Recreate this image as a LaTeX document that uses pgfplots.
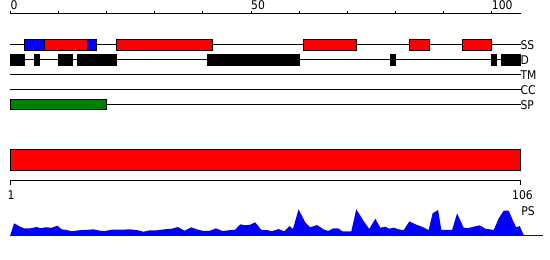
\documentclass[border=0pt]{standalone}
\usepackage{pgfplots}
\pgfplotsset{compat=1.18}
\usepackage{pgfplotstable}
\usepackage{fontspec}
\setmainfont{DejaVu Sans Condensed}
\definecolor{fgreen}{RGB}{0,128,0}
\newcommand{\lf}{\fontsize{12bp}{14bp}\selectfont}
\pgfplotstableread{
u h
0 0
0.77 12
1.33 10.6
2.02 8.6
2.85 7
4.10 7
5.49 8.3
6.38 7
7.21 8
8.61 7.6
9.77 9.6
10.69 6
11.73 5.3
12.77 4
14.14 5
15.53 5.3
17.26 6
18.65 4.6
19.69 4.3
21.08 5.6
23.16 5.6
24.89 6
26.55 5
27.65 3.6
29.04 5
30.44 5
32.52 6.3
33.56 6.6
34.80 8.3
36.17 4.6
37.57 8
38.75 6
40.12 4.3
41.52 4.6
42.70 7
44.07 4.3
45.32 5
46.71 5.6
47.75 11
48.79 10
49.83 10.6
50.87 13
52.12 5.6
53.64 5
54.34 4
55.72 6.3
56.90 4
58.00 9.3
58.71 6.3
59.88 26
61.27 13
62.31 8
63.70 10.3
65.07 6
65.99 4.3
67.15 7
68.07 7
69.02 4
70.83 4
71.87 26
73.39 14.3
74.57 6.3
75.82 16.6
76.86 7.6
77.90 8.6
78.73 6.6
79.63 7.6
80.67 6
81.71 5
82.89 14
84.14 11
85.53 8.6
86.90 5.3
87.73 22
88.86 25.3
89.54 5.3
91.77 5.3
92.81 22
94.18 7.6
95.22 7.3
96.26 8.6
97.51 10
98.69 6.6
100.42 5.3
101.46 17
102.49 24.6
103.53 24.6
104.37 15.3
105.08 8
105.82 9.3
106.65 0
}\profile
\newcommand{\feat}[5]{\addplot[fill=#5,draw=black,line width=1bp] coordinates {(#1,#3)(#2,#3)(#2,#4)(#1,#4)} -- cycle;}
\begin{document}
\begin{tikzpicture}
\path[use as bounding box] (0,0) rectangle (550bp,260bp);
\begin{axis}[
  at={(0,0)}, anchor=south west,
  width=550bp, height=260bp, scale only axis,
  hide axis, clip=false,
  xmin=-2.14, xmax=112.11, ymin=0, ymax=260,
]
% top scale
\addplot[black, line width=1bp] coordinates {(0,246)(106,246)};
\pgfplotsinvokeforeach{0,10,20,30,40,50,60,70,80,90,100}{
  \addplot[black, line width=1bp] coordinates {(#1,245.5)(#1,249)};
}
\node[anchor=west, inner sep=0pt] at (axis cs:0.0,254.5) {\lf 0};
\node[anchor=west, inner sep=0pt] at (axis cs:50.0,254.5) {\lf 50};
\node[anchor=west, inner sep=0pt] at (axis cs:100.0,254.5) {\lf 100};
% track lines
\addplot[black, line width=1bp] coordinates {(0,215)(106,215)};
\addplot[black, line width=1bp] coordinates {(0,200)(106,200)};
\addplot[black, line width=1bp] coordinates {(0,185)(106,185)};
\addplot[black, line width=1bp] coordinates {(0,170)(106,170)};
\addplot[black, line width=1bp] coordinates {(0,155)(106,155)};
\node[anchor=west, inner sep=0pt] at (axis cs:105.95,215) {\lf SS};
\node[anchor=west, inner sep=0pt] at (axis cs:105.95,200) {\lf D};
\node[anchor=west, inner sep=0pt] at (axis cs:105.95,185) {\lf TM};
\node[anchor=west, inner sep=0pt] at (axis cs:105.95,170) {\lf CC};
\node[anchor=west, inner sep=0pt] at (axis cs:105.95,155) {\lf SP};
% SS features
\feat{3}{7}{209.5}{220}{blue}
\feat{7}{16}{209.5}{220}{red}
\feat{16}{18}{209.5}{220}{blue}
\feat{22}{42}{209.5}{220}{red}
\feat{61}{72}{209.5}{220}{red}
\feat{83}{87}{209.5}{220}{red}
\feat{94}{100}{209.5}{220}{red}
% D features
\feat{0}{3}{194.5}{205}{black}
\feat{5}{6}{194.5}{205}{black}
\feat{10}{13}{194.5}{205}{black}
\feat{14}{22}{194.5}{205}{black}
\feat{41}{60}{194.5}{205}{black}
\feat{79}{80}{194.5}{205}{black}
\feat{100}{101}{194.5}{205}{black}
\feat{102}{106}{194.5}{205}{black}
% SP
\feat{0}{20}{150}{160}{fgreen}
% big bar
\feat{0}{106}{89.7}{110}{red}
% bottom scale
\addplot[black, line width=1bp] coordinates {(0,74.8)(0,79.3)(106,79.3)(106,74.8)};
\node[inner sep=0pt] at (axis cs:0.15,65) {\lf 1};
\node[inner sep=0pt] at (axis cs:106.4,65) {\lf 106};
\node[anchor=west, inner sep=0pt] at (axis cs:106.1,49) {\lf PS};
% profile
\addplot[blue, line width=1bp] coordinates {(0,24.7)(110.75,24.7)};
\addplot[fill=blue, draw=none] table[x=u, y expr=\thisrow{h}+24.7] {\profile} -- cycle;
\end{axis}
\end{tikzpicture}
\end{document}
